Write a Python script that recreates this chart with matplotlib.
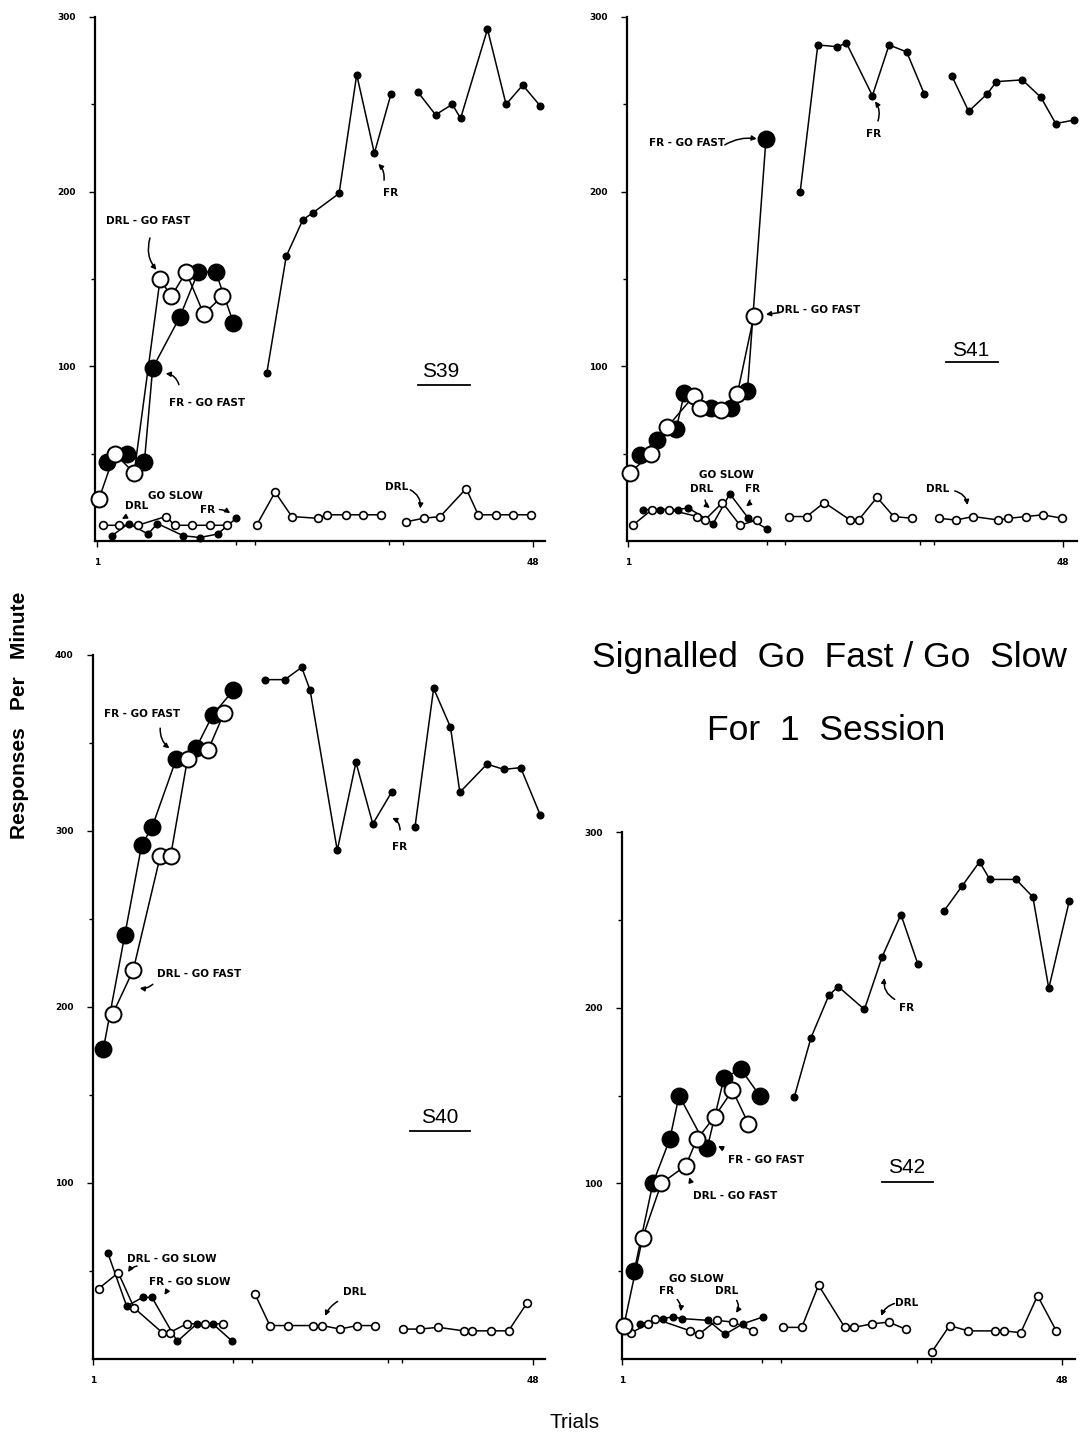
import numpy as np
import matplotlib.pyplot as plt

plt.rcParams["font.family"] = "DejaVu Sans"

W, H = 1083, 1437
NARROW = ["Liberation Sans Narrow", "DejaVu Sans"]

# ---------------- S39 ----------------
s39_fr_fast_x = [2.1, 4.2, 6.1, 7.0, 9.9, 11.9, 13.8, 15.7]
s39_fr_fast_y = [45, 50, 45, 99, 128, 154, 154, 125]
s39_drl_fast_x = [1.2, 2.9, 5.0, 7.8, 9.0, 10.6, 12.5, 14.5]
s39_drl_fast_y = [24, 50, 39, 150, 140, 154, 130, 140]
s39_fr_slow_x = [2.6, 4.4, 6.5, 7.5, 10.3, 12.1, 14.0, 16.0]
s39_fr_slow_y = [3, 10, 4, 10, 3, 2, 4, 13]
s39_drl_slow_x = [1.6, 3.4, 5.4, 8.4, 9.4, 11.2, 13.2, 15.0]
s39_drl_slow_y = [9, 9, 9, 14, 9, 9, 9, 9]
s39_fr_b2_x = [19.3, 21.4, 23.2, 24.3, 27.1, 29.0, 30.9, 32.7]
s39_fr_b2_y = [96, 163, 184, 188, 199, 267, 222, 256]
s39_drl_b2_x = [18.2, 20.2, 22.0, 24.8, 25.8, 27.8, 29.7, 31.6]
s39_drl_b2_y = [9, 28, 14, 13, 15, 15, 15, 15]
s39_fr_b3_x = [35.6, 37.5, 39.3, 40.2, 43.1, 45.1, 46.9, 48.8]
s39_fr_b3_y = [257, 244, 250, 242, 293, 250, 261, 249]
s39_drl_b3_x = [34.3, 36.2, 38.0, 40.8, 42.1, 44.0, 45.8, 47.8]
s39_drl_b3_y = [11, 13, 14, 30, 15, 15, 15, 15]

# ---------------- S41 ----------------
s41_fr_fast_x = [2.3, 4.1, 6.2, 7.1, 10.0, 12.1, 13.9, 15.9]
s41_fr_fast_y = [49, 58, 64, 85, 76, 76, 86, 230]
s41_drl_fast_x = [1.2, 3.5, 5.2, 8.1, 8.8, 11.0, 12.8, 14.6]
s41_drl_fast_y = [39, 50, 65, 83, 76, 75, 84, 129]
s41_fr_slow_x = [2.6, 4.5, 6.4, 7.5, 10.2, 12.0, 14.0, 16.0]
s41_fr_slow_y = [18, 18, 18, 19, 10, 27, 13, 7]
s41_drl_slow_x = [1.5, 3.6, 5.4, 8.5, 9.3, 11.2, 13.1, 14.9]
s41_drl_slow_y = [9, 18, 18, 14, 12, 22, 9, 12]
s41_fr_b2_x = [19.6, 21.5, 23.6, 24.6, 27.4, 29.2, 31.1, 33.0]
s41_fr_b2_y = [200, 284, 283, 285, 255, 284, 280, 256]
s41_drl_b2_x = [18.4, 20.3, 22.2, 25.0, 25.9, 27.9, 29.7, 31.7]
s41_drl_b2_y = [14, 14, 22, 12, 12, 25, 14, 13]
s41_fr_b3_x = [36.0, 37.8, 39.8, 40.8, 43.6, 45.6, 47.2, 49.2]
s41_fr_b3_y = [266, 246, 256, 263, 264, 254, 239, 241]
s41_drl_b3_x = [34.6, 36.4, 38.3, 41.0, 42.1, 44.0, 45.8, 47.9]
s41_drl_b3_y = [13, 12, 14, 12, 13, 14, 15, 13]

# ---------------- S40 ----------------
s40_fr_fast_x = [2.1, 4.4, 6.2, 7.3, 9.9, 12.0, 13.8, 16.0]
s40_fr_fast_y = [176, 241, 292, 302, 341, 347, 366, 380]
s40_drl_fast_x = [3.1, 5.3, 8.2, 9.3, 11.1, 13.3, 15.0]
s40_drl_fast_y = [196, 221, 286, 286, 341, 346, 367]
s40_fr_slow_x = [2.6, 4.6, 6.3, 7.3, 10.0, 12.1, 13.8, 15.9]
s40_fr_slow_y = [60, 30, 35, 35, 10, 20, 20, 10]
s40_drl_slow_x = [1.6, 3.7, 5.4, 8.4, 9.2, 11.0, 13.0, 14.9]
s40_drl_slow_y = [40, 49, 29, 15, 15, 20, 20, 20]
s40_fr_b2_x = [19.4, 21.5, 23.3, 24.2, 27.1, 29.1, 30.9, 32.9]
s40_fr_b2_y = [386, 386, 393, 380, 289, 339, 304, 322]
s40_drl_b2_x = [18.3, 19.9, 21.8, 24.5, 25.5, 27.4, 29.2, 31.1]
s40_drl_b2_y = [37, 19, 19, 19, 19, 17, 19, 19]
s40_fr_b3_x = [35.4, 37.4, 39.2, 40.2, 43.1, 44.9, 46.7, 48.8]
s40_fr_b3_y = [302, 381, 359, 322, 338, 335, 336, 309]
s40_drl_b3_x = [34.1, 35.9, 37.9, 40.6, 41.5, 43.5, 45.4, 47.4]
s40_drl_b3_y = [17, 17, 18, 16, 16, 16, 16, 32]

# ---------------- S42 ----------------
s42_fr_fast_x = [2.3, 4.3, 6.1, 7.1, 10.1, 11.9, 13.7, 15.7]
s42_fr_fast_y = [50, 100, 125, 150, 120, 160, 165, 150]
s42_drl_fast_x = [1.2, 3.2, 5.2, 7.8, 9.0, 10.9, 12.8, 14.5]
s42_drl_fast_y = [19, 69, 100, 110, 125, 138, 153, 134]
s42_fr_slow_x = [2.9, 5.4, 6.4, 7.4, 10.2, 12.0, 13.9, 16.1]
s42_fr_slow_y = [20, 23, 24, 23, 22, 14, 20, 24]
s42_drl_slow_x = [2.0, 3.8, 4.5, 8.3, 9.2, 11.1, 12.9, 15.0]
s42_drl_slow_y = [15, 20, 23, 16, 14, 22, 21, 16]
s42_fr_b2_x = [19.4, 21.2, 23.1, 24.1, 26.9, 28.8, 30.8, 32.6]
s42_fr_b2_y = [149, 183, 207, 212, 199, 229, 253, 225]
s42_drl_b2_x = [18.2, 20.2, 22.0, 24.8, 25.8, 27.7, 29.5, 31.3]
s42_drl_b2_y = [18, 18, 42, 18, 18, 20, 21, 17]
s42_fr_b3_x = [35.4, 37.3, 39.2, 40.3, 43.1, 44.9, 46.6, 48.8]
s42_fr_b3_y = [255, 269, 283, 273, 273, 263, 211, 261]
s42_drl_b3_x = [34.1, 36.0, 38.0, 40.9, 41.8, 43.6, 45.4, 47.4]
s42_drl_b3_y = [4, 19, 16, 16, 16, 15, 36, 16]


fig = plt.figure(figsize=(W / 100, H / 100), dpi=100)


def make_axes(left, top, right, bottom, xlim, ymax):
    ax = fig.add_axes([left / W, 1 - bottom / H, (right - left) / W, (bottom - top) / H])
    ax.set_xlim(*xlim)
    ax.set_ylim(0, ymax)
    for s in ["top", "right"]:
        ax.spines[s].set_visible(False)
    for s in ["left", "bottom"]:
        ax.spines[s].set_linewidth(1.6)
    ax.set_yticks(np.arange(100, ymax + 1, 100))
    ax.set_yticks(np.arange(50, ymax + 1, 50), minor=True)
    ax.set_xticks([1, 48])
    ax.set_xticks([16, 18, 32.5, 34], minor=True)
    ax.tick_params(axis="y", which="major", direction="out", length=4, width=1.0, pad=10)
    ax.tick_params(axis="x", which="major", direction="out", length=4, width=1.0, pad=8)
    ax.tick_params(axis="both", which="minor", direction="out", length=3, width=1.0)
    for lab in ax.get_xticklabels() + ax.get_yticklabels():
        lab.set_fontfamily(NARROW)
        lab.set_fontweight("bold")
        lab.set_fontsize(6.5)
    ax.patch.set_alpha(0)
    return ax


def series(ax, x, y, big, filled):
    ax.plot(x, y, "-", color="k", lw=1.1, marker="o",
            ms=11.5 if big else (4.6 if filled else 5.6),
            mfc="k" if filled else "w", mec="k", mew=1.4 if big else 1.2,
            clip_on=False, zorder=3 if filled else 4)


def note(ax, text, xy, xytext=None, tip=None, rad=0.3, size=7.5):
    ax.text(xy[0], xy[1], text, ha="center", va="center", fontsize=size,
            fontfamily=NARROW, fontweight="bold")
    if xytext is not None:
        ax.annotate("", xy=tip, xytext=xytext,
                    arrowprops=dict(arrowstyle="-|>", lw=1.1, color="k",
                                    mutation_scale=7,
                                    connectionstyle=f"arc3,rad={rad}"))


def subject(ax, label, xy, x0, x1, yline):
    ax.text(xy[0], xy[1], label, ha="center", va="center", fontsize=15,
            fontfamily="Liberation Sans")
    ax.plot([x0, x1], [yline, yline], color="k", lw=1.3)


def panel(ax, d):
    for key, big, filled in [("fr_slow", False, True), ("drl_slow", False, False),
                             ("fr_fast", True, True), ("drl_fast", True, False),
                             ("fr_b2", False, True), ("drl_b2", False, False),
                             ("fr_b3", False, True), ("drl_b3", False, False)]:
        series(ax, d[key + "_x"], d[key + "_y"], big, filled)


def collect(prefix):
    g = globals()
    return {k[len(prefix):]: g[k] for k in g if k.startswith(prefix)}


# S39
ax = make_axes(95, 17, 545, 541, (0.78, 49.3), 300)
panel(ax, collect("s39_"))
note(ax, "DRL - GO FAST", (6.5, 183), (6.8, 175), (7.6, 154), rad=0.3)
note(ax, "FR - GO FAST", (12.9, 79), (9.9, 88), (8.1, 96), rad=0.4)
note(ax, "GO SLOW", (9.4, 26))
note(ax, "DRL", (5.3, 20), (4.3, 16), (3.4, 12), rad=-0.2)
note(ax, "FR", (12.9, 18), (13.9, 18), (15.6, 15), rad=-0.2)
note(ax, "FR", (32.6, 199), (31.9, 205), (31.1, 217), rad=0.3)
note(ax, "DRL", (33.3, 31), (34.5, 30), (35.8, 17), rad=-0.4)
subject(ax, "S39", (38.0, 97), 35.6, 41.2, 89.4)

# S41
ax = make_axes(627, 17, 1077, 541, (0.89, 49.5), 300)
panel(ax, collect("s41_"))
note(ax, "FR - GO FAST", (7.4, 228), (11.2, 226), (15.2, 230), rad=-0.2)
note(ax, "DRL - GO FAST", (21.5, 132), (17.7, 131), (15.6, 129.5), rad=0.0)
note(ax, "GO SLOW", (11.6, 38))
note(ax, "DRL", (9.0, 30), (9.3, 25), (10.1, 18), rad=0.3)
note(ax, "FR", (14.4, 30), (14.2, 25), (13.5, 19), rad=-0.3)
note(ax, "FR", (27.5, 233), (27.9, 239), (27.5, 253), rad=0.3)
note(ax, "DRL", (34.4, 30), (36.0, 29), (37.7, 19), rad=-0.4)
subject(ax, "S41", (38.0, 109), 35.4, 41.0, 102.6)

# S40
ax = make_axes(93, 655, 545, 1359, (1.0, 49.3), 400)
panel(ax, collect("s40_"))
note(ax, "FR - GO FAST", (6.2, 366.5), (8.2, 360), (9.4, 346), rad=0.3)
note(ax, "DRL - GO FAST", (12.3, 219), (7.6, 214), (5.7, 211), rad=-0.3)
note(ax, "DRL - GO SLOW", (9.4, 57), (6.0, 53), (4.6, 48), rad=0.3)
note(ax, "FR - GO SLOW", (11.3, 44), (9.2, 39), (8.5, 35), rad=0.2)
note(ax, "FR", (33.8, 291), (33.8, 299), (32.7, 308), rad=0.4)
note(ax, "DRL", (29.0, 38), (27.4, 33.5), (25.7, 23), rad=0.2)
subject(ax, "S40", (38.1, 137), 34.9, 41.3, 129.5)

# S42
ax = make_axes(622, 832, 1075, 1359, (1.0, 49.4), 300)
panel(ax, collect("s42_"))
note(ax, "FR - GO FAST", (16.4, 113), (12.1, 119), (11.0, 122), rad=0.0)
note(ax, "DRL - GO FAST", (13.1, 93), (8.4, 100), (8.1, 105), rad=0.0)
note(ax, "GO SLOW", (9.0, 45.5))
note(ax, "FR", (5.8, 38.7), (6.7, 35), (7.2, 25.6), rad=-0.3)
note(ax, "DRL", (12.2, 38.7), (13.1, 34.7), (13.0, 25), rad=-0.4)
note(ax, "FR", (31.4, 200), (30.4, 204), (29.1, 218.5), rad=-0.4)
note(ax, "DRL", (31.4, 32), (30.4, 32), (28.6, 23), rad=0.3)
subject(ax, "S42", (31.4, 109), 28.8, 34.2, 101)

# figure texts
fig.text(829 / W, 1 - 658 / H, "Signalled  Go  Fast / Go  Slow", ha="center", va="center",
         fontsize=25.5, fontfamily="Liberation Sans")
fig.text(826 / W, 1 - 730 / H, "For  1  Session", ha="center", va="center",
         fontsize=25.5, fontfamily="Liberation Sans")
fig.text(20 / W, 1 - 715 / H, "Responses   Per   Minute", ha="center", va="center",
         rotation=90, fontsize=15, fontweight="bold", fontfamily="Liberation Sans")
fig.text(575 / W, 1 - 1422 / H, "Trials", ha="center", va="center",
         fontsize=15, fontfamily="Liberation Sans")

fig.savefig("out.png", dpi=100)
